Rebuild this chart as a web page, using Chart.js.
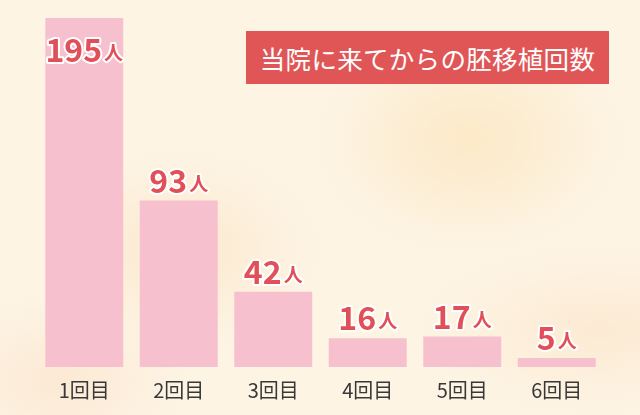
<!DOCTYPE html>
<html>
<head>
<meta charset="utf-8">
<script src="https://cdn.jsdelivr.net/npm/chart.js@4/dist/chart.umd.min.js"></script>
<style>
  html, body { margin: 0; padding: 0; }
  body {
    width: 640px; height: 415px; overflow: hidden; position: relative;
    background:
      radial-gradient(ellipse 220px 160px at 470px 140px, rgba(251,222,170,0.5), rgba(251,222,170,0) 70%),
      radial-gradient(ellipse 200px 140px at 180px 250px, rgba(250,218,180,0.45), rgba(250,218,180,0) 70%),
      radial-gradient(ellipse 260px 120px at 600px 330px, rgba(252,228,200,0.6), rgba(252,228,200,0) 70%),
      radial-gradient(ellipse 180px 120px at 60px 380px, rgba(250,222,196,0.5), rgba(250,222,196,0) 70%),
      #fdf4e4;
    font-family: "Noto Sans CJK JP", "Noto Sans", sans-serif;
  }
  #wrap { position: absolute; left: 0; top: 0; width: 640px; height: 415px; }
  #title {
    position: absolute; left: 246px; top: 31px; width: 363px; height: 53px;
    background: #e05656; color: #fff; font-size: 25.5px; line-height: 53px;
    text-align: center; letter-spacing: 0.3px;
  }
</style>
</head>
<body>
<div id="wrap"><canvas id="chart" width="640" height="415"></canvas></div>
<div id="title">当院に来てからの胚移植回数</div>
<script>
// Data
const labels = ["1回目", "2回目", "3回目", "4回目", "5回目", "6回目"];
const counts = [195, 93, 42, 16, 17, 5];
const unit = "人";

// Value labels above bars
const valueLabels = {
  id: "valueLabels",
  afterDatasetsDraw(chart) {
    const ctx = chart.ctx;
    const meta = chart.getDatasetMeta(0);
    meta.data.forEach((bar, i) => {
      const num = String(counts[i]);
      const y = Math.max(bar.y - 8, 62);
      ctx.save();
      ctx.textBaseline = "alphabetic";
      ctx.font = "bold 32px 'Noto Sans CJK JP'";
      const wNum = ctx.measureText(num).width;
      ctx.font = "bold 19px 'Noto Sans CJK JP'";
      const wUnit = ctx.measureText(unit).width;
      const x0 = bar.x - (wNum + wUnit + 2) / 2;
      ctx.lineJoin = "round";
      ctx.strokeStyle = "#ffffff";
      ctx.lineWidth = 4;
      ctx.fillStyle = "#e14f58";
      ctx.font = "bold 32px 'Noto Sans CJK JP'";
      ctx.strokeText(num, x0, y);
      ctx.fillText(num, x0, y);
      ctx.font = "bold 19px 'Noto Sans CJK JP'";
      ctx.strokeText(unit, x0 + wNum + 2, y - 2);
      ctx.fillText(unit, x0 + wNum + 2, y - 2);
      ctx.restore();
    });
  }
};

new Chart(document.getElementById("chart"), {
  type: "bar",
  data: {
    labels: labels,
    datasets: [{
      data: counts,
      backgroundColor: "#f7c0ce",
      borderWidth: 0,
      categoryPercentage: 1,
      barPercentage: 0.825
    }]
  },
  options: {
    responsive: false,
    animation: false,
    layout: { padding: { left: 37, right: 36, top: 18, bottom: 10 } },
    plugins: { legend: { display: false }, tooltip: { enabled: false } },
    scales: {
      x: {
        grid: { display: false },
        border: { display: false },
        ticks: { color: "#383838", font: { size: 20, family: "'Noto Sans CJK JP'" }, padding: 3 }
      },
      y: {
        display: false,
        min: 0,
        max: 195
      }
    }
  },
  plugins: [valueLabels]
});
</script>
</body>
</html>
